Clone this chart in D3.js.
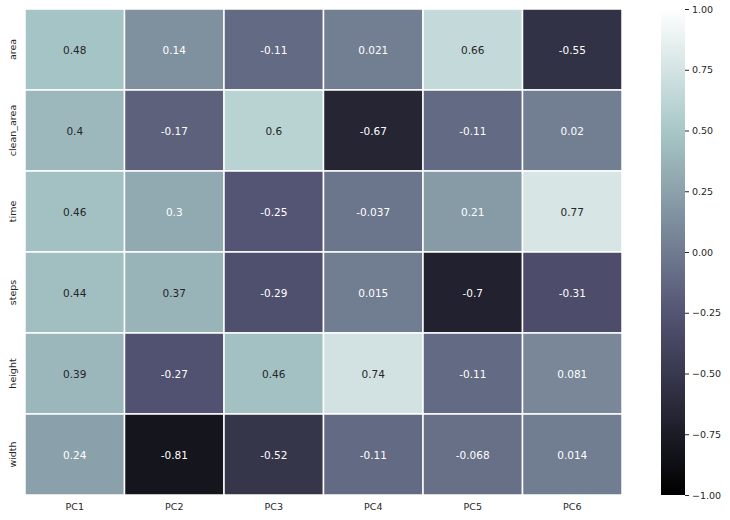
<!DOCTYPE html>
<html><head><meta charset="utf-8">
<script src="https://cdn.jsdelivr.net/npm/d3@7"></script>
<style>body{margin:0;background:#fff;} text{font-family:"DejaVu Sans",sans-serif;}</style>
</head><body><svg id="c" width="730" height="520"></svg>
<script>
const rows = ["area","clean_area","time","steps","height","width"];
const cols = ["PC1","PC2","PC3","PC4","PC5","PC6"];
const vArea  = [0.48, 0.14, -0.11, 0.021, 0.66, -0.55];
const vClean = [0.4, -0.17, 0.6, -0.67, -0.11, 0.02];
const vTime  = [0.46, 0.3, -0.25, -0.037, 0.21, 0.77];
const vSteps = [0.44, 0.37, -0.29, 0.015, -0.7, -0.31];
const vHeight= [0.39, -0.27, 0.46, 0.74, -0.11, 0.081];
const vWidth = [0.24, -0.81, -0.52, -0.11, -0.068, 0.014];
const matrix = [vArea, vClean, vTime, vSteps, vHeight, vWidth];
const cbTicks = [-1, -0.75, -0.5, -0.25, 0, 0.25, 0.5, 0.75, 1];

// matplotlib "bone" colormap
const boneR = [[0,0],[0.746032,0.652778],[1,1]];
const boneG = [[0,0],[0.365079,0.319444],[0.746032,0.777778],[1,1]];
const boneB = [[0,0],[0.365079,0.444444],[1,1]];
function seg(p, t){
  for(let i=1;i<p.length;i++){ if(t<=p[i][0]){ const a=p[i-1],b=p[i]; return a[1]+(b[1]-a[1])*(t-a[0])/(b[0]-a[0]); } }
  return p[p.length-1][1];
}
function bone(t){ t=Math.max(0,Math.min(1,t)); return [seg(boneR,t),seg(boneG,t),seg(boneB,t)]; }
const norm = d3.scaleLinear().domain([-1,1]).range([0,1]);
function rgbStr(c){ return d3.rgb(c[0]*255,c[1]*255,c[2]*255).formatHex(); }
function lum(c){ const l=c.map(x=> x<=0.03928? x/12.92 : Math.pow((x+0.055)/1.055,2.4)); return 0.2126*l[0]+0.7152*l[1]+0.0722*l[2]; }

const svg = d3.select("#c");
const L=25, R=622, T=9, B=495;
const x = d3.scaleBand().domain(cols).range([L,R]);
const y = d3.scaleBand().domain(rows).range([T,B]);

const cells = [];
rows.forEach((r,i)=>cols.forEach((c,j)=>cells.push({r,c,v:matrix[i][j]})));

const g = svg.append("g");
g.selectAll("rect").data(cells).enter().append("rect")
  .attr("x",d=>x(d.c)).attr("y",d=>y(d.r))
  .attr("width",x.bandwidth()).attr("height",y.bandwidth())
  .attr("fill",d=>rgbStr(bone(norm(d.v))))
  .attr("stroke","#fff").attr("stroke-width",1.5);
g.selectAll("text").data(cells).enter().append("text")
  .attr("x",d=>x(d.c)+x.bandwidth()/2).attr("y",d=>y(d.r)+y.bandwidth()/2)
  .attr("text-anchor","middle").attr("dominant-baseline","central")
  .attr("font-size",10.5)
  .attr("fill",d=> lum(bone(norm(d.v)))>0.408 ? "#262626" : "#ffffff")
  .text(d=>String(d.v));

// axes labels
const xa = d3.axisBottom(x).tickSize(0).tickPadding(8);
svg.append("g").attr("transform",`translate(0,${B})`).call(xa)
  .call(s=>s.select(".domain").remove())
  .selectAll("text").attr("font-size",9.5).attr("fill","#262626").attr("font-family","DejaVu Sans");
svg.append("g").selectAll("text").data(rows).enter().append("text")
  .attr("transform",d=>`translate(15.5,${y(d)+y.bandwidth()/2}) rotate(-90)`)
  .attr("text-anchor","middle").attr("font-size",9.5).attr("fill","#262626")
  .text(d=>d);

// colorbar
const cbL=661, cbW=24;
const defs = svg.append("defs");
const grad = defs.append("linearGradient").attr("id","cb").attr("x1",0).attr("y1",1).attr("x2",0).attr("y2",0);
d3.range(0,101).forEach(i=>{ const t=i/100; grad.append("stop").attr("offset",t).attr("stop-color",rgbStr(bone(t))); });
svg.append("rect").attr("x",cbL).attr("y",T).attr("width",cbW).attr("height",B-T).attr("fill","url(#cb)");
const cy = d3.scaleLinear().domain([-1,1]).range([B,T]);
const ca = d3.axisRight(cy).tickValues(cbTicks).tickSize(4).tickPadding(3)
  .tickFormat(d=>d3.format(".2f")(d).replace("-","\u2212"));
svg.append("g").attr("transform",`translate(${cbL+cbW},0)`).call(ca)
  .call(s=>s.select(".domain").remove())
  .call(s=>s.selectAll("line").attr("stroke","#262626"))
  .selectAll("text").attr("font-size",9.5).attr("fill","#262626").attr("font-family","DejaVu Sans");
</script></body></html>
